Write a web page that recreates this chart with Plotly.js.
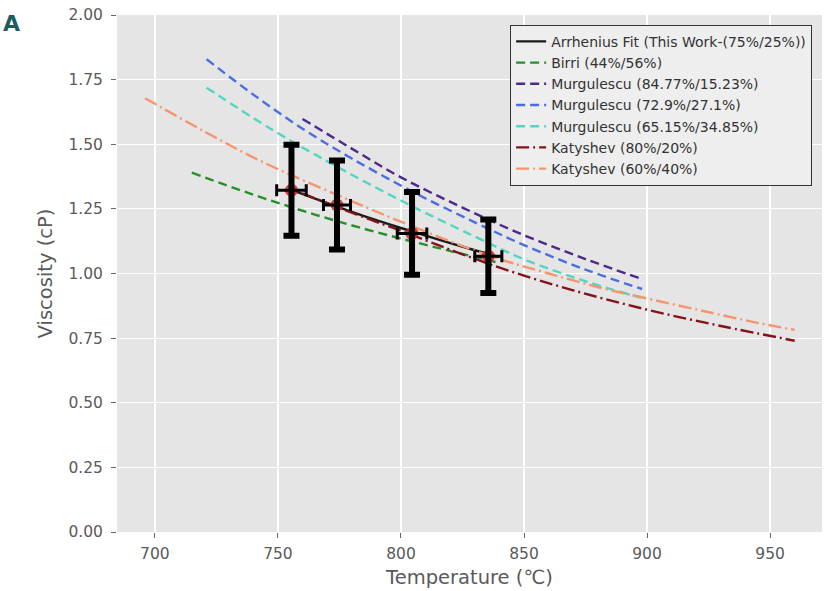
<!DOCTYPE html>
<html>
<head>
<meta charset="utf-8">
<script src="https://cdn.plot.ly/plotly-3.0.1.min.js"></script>
<style>html,body{margin:0;padding:0;background:#fff;}#chart{width:833px;height:591px;}</style>
</head>
<body>
<div id="chart"></div>
<script>
// ---- data ----
const fitX = [755, 770, 785, 800, 815, 830, 840];
const fitY = [1.325, 1.272, 1.222, 1.176, 1.132, 1.090, 1.063];

const birriX = [715, 740, 765, 790, 815, 840];
const birriY = [1.390, 1.305, 1.228, 1.160, 1.099, 1.041];

const murg8477X = [760, 780, 800, 825, 850, 875, 898];
const murg8477Y = [1.598, 1.483, 1.372, 1.255, 1.148, 1.056, 0.978];

const murg729X = [721, 740, 760, 780, 805, 830, 850, 875, 898];
const murg729Y = [1.829, 1.692, 1.560, 1.445, 1.315, 1.198, 1.110, 1.015, 0.940];

const murg6515X = [721, 747, 775, 805, 830, 850, 875, 898];
const murg6515Y = [1.719, 1.560, 1.408, 1.258, 1.143, 1.055, 0.970, 0.905];

const katy80X = [760, 780, 800, 822, 844, 870, 900, 930, 960];
const katy80Y = [1.310, 1.235, 1.165, 1.085, 1.010, 0.935, 0.860, 0.797, 0.740];

const katy60X = [696, 720, 743, 775, 805, 837, 860, 881, 897, 921, 946, 960];
const katy60Y = [1.678, 1.550, 1.435, 1.300, 1.181, 1.065, 1.000, 0.945, 0.910, 0.859, 0.807, 0.782];

const expX = [755.5, 774, 804.5, 835.5];
const expY = [1.322, 1.265, 1.155, 1.067];
const expErrY = [0.176, 0.172, 0.160, 0.142];
const expErrX = [6, 5.5, 6, 5.5];

const legendNames = [
  "Arrhenius Fit (This Work-(75%/25%))",
  "Birri (44%/56%)",
  "Murgulescu (84.77%/15.23%)",
  "Murgulescu (72.9%/27.1%)",
  "Murgulescu (65.15%/34.85%)",
  "Katyshev (80%/20%)",
  "Katyshev (60%/40%)"
];
const xTicks = [700, 750, 800, 850, 900, 950];
const yTicks = [0, 0.25, 0.5, 0.75, 1.0, 1.25, 1.5, 1.75, 2.0];

// ---- styles ----
const DASH = "9px,5px";
const DASHDOT = "13px,4px,2px,4px";
function line(x, y, name, color, dash) {
  return {x: x, y: y, name: name, type: "scatter", mode: "lines",
          line: {color: color, width: 2.4, dash: dash, shape: "spline", smoothing: 1}};
}

const traces = [
  line(fitX, fitY, legendNames[0], "#1a1a1a", "solid"),
  line(birriX, birriY, legendNames[1], "#24922a", DASH),
  line(murg8477X, murg8477Y, legendNames[2], "#4a2a8c", DASH),
  line(murg729X, murg729Y, legendNames[3], "#4a6ee0", DASH),
  line(murg6515X, murg6515Y, legendNames[4], "#52d6c4", DASH),
  line(katy80X, katy80Y, legendNames[5], "#84121a", DASHDOT),
  line(katy60X, katy60Y, legendNames[6], "#f5956e", DASHDOT),
  {x: expX, y: expY, type: "scatter", mode: "markers", showlegend: false, hoverinfo: "skip",
   marker: {color: "rgba(215,35,30,0.85)", size: 13, symbol: "circle"}},
  {x: expX, y: expY, type: "scatter", mode: "markers", showlegend: false,
   marker: {color: "rgba(0,0,0,0)", size: 1},
   error_y: {type: "data", array: expErrY, visible: true, color: "#000", thickness: 6, width: 8},
   error_x: {type: "data", array: expErrX, visible: true, color: "#000", thickness: 3, width: 6}}
];

const axisCommon = {
  showgrid: true, gridcolor: "#ffffff", gridwidth: 1.2,
  zeroline: false, showline: false,
  ticks: "outside", ticklen: 5, tickwidth: 1, tickcolor: "#666",
  tickfont: {family: "DejaVu Sans", size: 15.5, color: "#5a5a5a"}
};

const layout = {
  width: 833, height: 591,
  margin: {l: 117, r: 11, t: 15, b: 59},
  paper_bgcolor: "#ffffff",
  plot_bgcolor: "#e5e5e5",
  font: {family: "DejaVu Sans", color: "#555"},
  xaxis: Object.assign({}, axisCommon, {
    range: [684.6, 971.1], tickvals: xTicks, ticktext: xTicks.map(String),
    ticklabelstandoff: 2,
    title: {text: "Temperature (℃)", font: {family: "DejaVu Sans", size: 19.5, color: "#5a5a5a"}, standoff: 8}
  }),
  yaxis: Object.assign({}, axisCommon, {
    range: [0, 2], tickvals: yTicks, ticktext: yTicks.map(v => v.toFixed(2)),
    ticklabelstandoff: 5,
    title: {text: "Viscosity (cP)", font: {family: "DejaVu Sans", size: 19.5, color: "#5a5a5a"}, standoff: 10}
  }),
  showlegend: true,
  legend: {
    x: 0.986, xanchor: "right", y: 0.981, yanchor: "top",
    bgcolor: "rgba(238,238,238,0.95)", bordercolor: "#333", borderwidth: 1,
    font: {family: "DejaVu Sans", size: 14, color: "#333"},
    itemwidth: 30, tracegroupgap: 0
  },
  annotations: [{
    text: "<b>A</b>", xref: "paper", yref: "paper",
    x: -0.164, xanchor: "left", y: 0.984, yanchor: "middle",
    showarrow: false, font: {family: "DejaVu Sans", size: 22, color: "#1d5b5e"}
  }]
};

Plotly.newPlot("chart", traces, layout, {displayModeBar: false, staticPlot: true});
</script>
</body>
</html>
